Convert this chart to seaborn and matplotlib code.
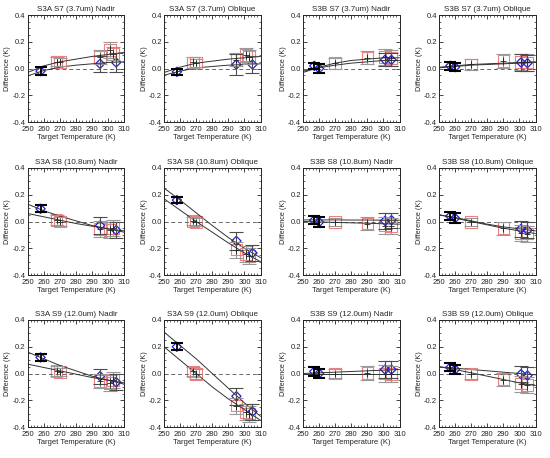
import matplotlib
matplotlib.use("Agg")
import matplotlib.pyplot as plt
import seaborn as sns
import numpy as np
from matplotlib.ticker import MultipleLocator

sns.set_style("ticks")
plt.rcParams['font.family'] = ['Liberation Sans', 'DejaVu Sans']

# panel titles, row by row
titles = ["S3A S7 (3.7um) Nadir", "S3A S7 (3.7um) Oblique", "S3B S7 (3.7um) Nadir", "S3B S7 (3.7um) Oblique",
          "S3A S8 (10.8um) Nadir", "S3A S8 (10.8um) Oblique", "S3B S8 (10.8um) Nadir", "S3B S8 (10.8um) Oblique",
          "S3A S9 (12.0um) Nadir", "S3A S9 (12.0um) Oblique", "S3B S9 (12.0um) Nadir", "S3B S9 (12.0um) Oblique"]

# blue diamonds (reference targets) : temps, differences, uncertainty
blue_x = [[258, 295, 305], [258, 295, 305], [257, 260, 301, 305], [257, 260, 301, 305],
          [258, 295, 305], [258, 295, 305], [257, 260, 301, 305], [257, 260, 301, 305],
          [258, 295, 305], [258, 295, 305], [257, 260, 301, 305], [257, 260, 301, 305]]
blue_y = [[-0.02, 0.035, 0.045], [-0.025, 0.03, 0.03], [0.02, 0.0, 0.065, 0.065], [0.02, 0.01, 0.045, 0.04],
          [0.095, -0.03, -0.065], [0.16, -0.145, -0.235], [0.01, -0.005, 0.005, 0.01], [0.04, 0.025, -0.055, -0.065],
          [0.12, -0.02, -0.065], [0.20, -0.17, -0.285], [0.015, 0.0, 0.03, 0.03], [0.045, 0.03, -0.005, -0.015]]
blue_e = [[0.03, 0.06, 0.07], [0.025, 0.075, 0.065], [0.02, 0.035, 0.05, 0.05], [0.03, 0.03, 0.06, 0.06],
          [0.025, 0.06, 0.06], [0.025, 0.065, 0.06], [0.03, 0.035, 0.06, 0.055], [0.03, 0.035, 0.06, 0.06],
          [0.025, 0.055, 0.06], [0.025, 0.065, 0.06], [0.03, 0.035, 0.06, 0.06], [0.03, 0.035, 0.06, 0.06]]

# red squares (second comparison set)
red_x = [[268, 270, 295, 301, 303], [268, 270, 295, 301, 303], [270, 290, 301, 305], [270, 290, 301, 305],
         [268, 270, 295, 301, 303], [268, 270, 295, 301, 303], [270, 290, 301, 305], [270, 290, 301, 305],
         [268, 270, 295, 301, 303], [268, 270, 295, 301, 303], [270, 290, 301, 305], [270, 290, 301, 305]]
red_y = [[0.05, 0.05, 0.085, 0.14, 0.11], [0.045, 0.04, 0.065, 0.10, 0.085], [0.04, 0.08, 0.085, 0.08], [0.03, 0.055, 0.05, 0.045],
         [0.01, 0.0, -0.055, -0.065, -0.05], [0.005, -0.005, -0.21, -0.245, -0.26], [-0.005, -0.015, -0.03, -0.035], [-0.005, -0.05, -0.085, -0.09],
         [0.02, 0.01, -0.055, -0.07, -0.05], [0.015, -0.005, -0.24, -0.29, -0.30], [0.0, 0.005, 0.0, -0.005], [-0.005, -0.045, -0.075, -0.085]]
red_e = [[0.035, 0.03, 0.05, 0.06, 0.05], [0.04, 0.03, 0.05, 0.05, 0.05], [0.04, 0.05, 0.06, 0.06], [0.04, 0.05, 0.06, 0.06],
         [0.035, 0.03, 0.06, 0.06, 0.06], [0.03, 0.03, 0.06, 0.06, 0.06], [0.03, 0.05, 0.06, 0.06], [0.03, 0.05, 0.06, 0.06],
         [0.035, 0.03, 0.05, 0.06, 0.06], [0.03, 0.035, 0.06, 0.06, 0.06], [0.035, 0.05, 0.06, 0.06], [0.035, 0.05, 0.06, 0.06]]

# fitted curves, read at these temperatures
fit_t = [250, 260, 270, 280, 290, 300, 310]
fit_a = [[-0.03, 0.02, 0.05, 0.07, 0.09, 0.105, 0.12], [-0.03, 0.01, 0.04, 0.055, 0.07, 0.08, 0.09],
         [-0.03, 0.01, 0.04, 0.06, 0.07, 0.08, 0.08], [0.01, 0.02, 0.03, 0.035, 0.04, 0.045, 0.05],
         [0.13, 0.08, 0.04, 0.005, -0.03, -0.055, -0.08], [0.25, 0.16, 0.065, -0.03, -0.12, -0.20, -0.27],
         [0.012, 0.012, 0.012, 0.011, 0.011, 0.01, 0.01], [0.05, 0.03, 0.005, -0.02, -0.04, -0.055, -0.07],
         [0.16, 0.11, 0.06, 0.02, -0.02, -0.05, -0.08], [0.31, 0.21, 0.11, 0.0, -0.11, -0.22, -0.32],
         [0.0, 0.005, 0.01, 0.015, 0.02, 0.025, 0.03], [0.05, 0.04, 0.03, 0.02, 0.01, 0.0, -0.01]]
fit_b = [[-0.055, -0.015, 0.01, 0.025, 0.035, 0.045, 0.05], [-0.05, -0.02, 0.005, 0.015, 0.025, 0.03, 0.035],
         [-0.02, 0.005, 0.025, 0.04, 0.05, 0.06, 0.06], [0.005, 0.015, 0.025, 0.03, 0.035, 0.04, 0.045],
         [0.06, 0.035, 0.01, -0.015, -0.035, -0.055, -0.07], [0.17, 0.085, 0.0, -0.08, -0.16, -0.235, -0.30],
         [0.0, -0.003, -0.007, -0.01, -0.013, -0.017, -0.02], [0.05, 0.025, 0.0, -0.025, -0.05, -0.07, -0.09],
         [0.07, 0.045, 0.02, -0.005, -0.03, -0.05, -0.07], [0.20, 0.10, 0.0, -0.10, -0.19, -0.27, -0.35],
         [0.0, 0.0, 0.0, 0.0, 0.0, 0.0, 0.0], [0.05, 0.03, 0.005, -0.02, -0.045, -0.07, -0.09]]

fig = plt.figure(figsize=(5.5, 4.58), dpi=100)
fig.patch.set_color('white')

lefts = [27.7, 164, 303, 439]
tops = [15, 168, 320]
W, H = 96.5, 107

for i in range(12):
    r, c = divmod(i, 4)
    ax = fig.add_axes([lefts[c] / 550, 1 - (tops[r] + H) / 458, W / 550, H / 458])

    ax.axhline(0, color='0.4', lw=0.7, ls=(0, (4, 3)))
    sns.lineplot(x=fit_t, y=fit_a[i], ax=ax, color='0.2', lw=0.7)
    sns.lineplot(x=fit_t, y=fit_b[i], ax=ax, color='0.2', lw=0.7)

    # red squares with grey error bars
    ax.errorbar(red_x[i], red_y[i], yerr=red_e[i], fmt='none', ecolor='0.6', elinewidth=0.8, capsize=5, capthick=0.8)
    ax.errorbar(red_x[i], red_y[i], yerr=np.array(red_e[i]) * 0.6, fmt='+', color='0.15', ms=4, mew=0.6, elinewidth=0.6)
    sns.scatterplot(x=red_x[i], y=red_y[i], ax=ax, marker='s', s=70, facecolor='none', edgecolor='#f08080', linewidth=0.8)

    # blue diamonds: cold target bars heavy black, warm ones thinner
    bx = np.array(blue_x[i]); by = np.array(blue_y[i]); be = np.array(blue_e[i])
    cold = bx < 265
    ax.errorbar(bx[~cold], by[~cold], yerr=be[~cold], fmt='none', ecolor='0.3', elinewidth=0.8, capsize=5, capthick=0.8)
    ax.errorbar(bx[cold], by[cold], yerr=be[cold], fmt='none', ecolor='k', elinewidth=1.3, capsize=4, capthick=1.5)
    sns.scatterplot(x=blue_x[i], y=blue_y[i], ax=ax, marker='D', s=22, facecolor='none', edgecolor='#2020e0', linewidth=0.9)

    ax.set_xlim(250, 310)
    ax.set_ylim(-0.4, 0.4)
    ax.xaxis.set_major_locator(MultipleLocator(10))
    ax.xaxis.set_minor_locator(MultipleLocator(2))
    ax.yaxis.set_major_locator(MultipleLocator(0.2))
    ax.yaxis.set_minor_locator(MultipleLocator(0.05))
    ax.yaxis.set_major_formatter(matplotlib.ticker.FormatStrFormatter('%.1f'))
    ax.tick_params(which='both', direction='in', top=True, right=True, labelsize=5.5, pad=1.5)
    ax.tick_params(axis='x', which='major', pad=3)
    ax.tick_params(which='major', length=3, width=0.6)
    ax.tick_params(which='minor', length=1.5, width=0.5)
    for sp in ax.spines.values():
        sp.set_linewidth(0.7)
    ax.set_title(titles[i], fontsize=5.8, pad=3)
    ax.set_xlabel('Target Temperature (K)', fontsize=5.5, labelpad=0.5)
    ax.set_ylabel('Difference (K)', fontsize=5.2, labelpad=1)

fig.savefig('out.png', dpi=100)
